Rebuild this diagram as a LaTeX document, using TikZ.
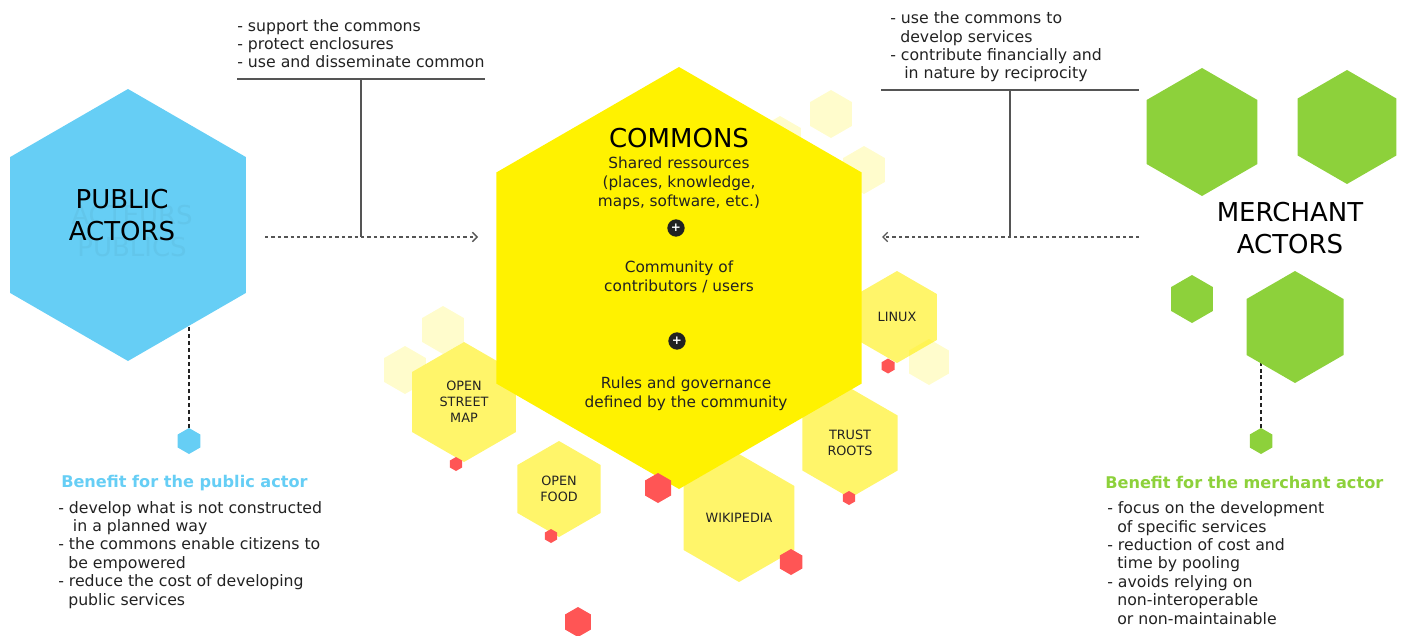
\documentclass[tikz,border=0pt]{standalone}
\usepackage{fontspec}
\setmainfont{DejaVu Sans}
\usetikzlibrary{shapes.geometric,arrows.meta}

\definecolor{pubblue}{HTML}{66CEF5}
\definecolor{comyellow}{HTML}{FFF200}
\definecolor{hexyellow}{HTML}{FFF56A}
\definecolor{merchgreen}{HTML}{8DD13B}
\definecolor{dotred}{HTML}{FF5555}
\definecolor{inkgray}{HTML}{222222}
\definecolor{linegray}{HTML}{555555}

\tikzset{
  hexa/.style={regular polygon, regular polygon sides=6, shape border rotate=30,
    draw=none, inner sep=0pt, outer sep=0pt, minimum size=#1*1.5pt},
  palehex/.style={fill=comyellow, fill opacity=0.2},
  projhex/.style={fill=hexyellow, text=inkgray, align=center,
    font=\fontsize{9.6}{12}\selectfont},
  reddot/.style={fill=dotred},
  bigtitle/.style={text=black, align=center, anchor=base,
    font=\fontsize{19.5}{23.5}\selectfont},
  bodytext/.style={text=inkgray, align=left, anchor=base west, inner sep=0pt,
    font=\fontsize{11.8}{13.8}\selectfont},
  comtext/.style={text=inkgray, align=center, anchor=base, inner sep=0pt,
    font=\fontsize{11.5}{13.9}\selectfont},
  headtext/.style={anchor=base west, inner sep=0pt,
    font=\fontsize{12.1}{14}\selectfont\bfseries},
  plusdot/.style={circle, fill=inkgray, text=white, inner sep=0pt,
    minimum size=13pt, font=\fontsize{9}{9}\selectfont\bfseries},
  flow/.style={draw=linegray, line width=1pt, dash pattern=on 2.6pt off 2.2pt,
    -{Straight Barb[length=3.5pt,width=7pt]}},
  tick/.style={draw=inkgray, line width=1pt, dash pattern=on 3pt off 2.2pt},
  bar/.style={draw=linegray, line width=1.3pt}
}

\begin{document}
\begin{tikzpicture}[x=0.75pt,y=-0.75pt]
  \useasboundingbox (0,0) rectangle (1405,635);

  % faint hexagons around the commons
  \node[hexa=24,palehex] (pale1) at (831,114) {};
  \node[hexa=24,palehex] (pale2) at (864,170) {};
  \node[hexa=24,palehex] (pale3) at (780,140) {};
  \node[hexa=24,palehex] (pale4) at (443,330) {};
  \node[hexa=24,palehex] (pale5) at (405,370) {};

  % examples of commons
  \node[hexa=60,projhex] (osm) at (464,402) {OPEN\\STREET\\MAP};
  \node[hexa=48,projhex] (food) at (559,489) {OPEN\\FOOD};
  \node[hexa=46,projhex] (linux) at (897,317) {LINUX};
  \node[hexa=55,projhex] (trust) at (850,443) {TRUST\\ROOTS};
  \node[hexa=64,projhex] (wiki) at (739,518) {WIKIPEDIA};
  \node[hexa=23,palehex] (pale6) at (929,362) {};

  % the commons
  \node[hexa=211,fill=comyellow] (commons) at (679,278) {};
  \node[bigtitle,font=\fontsize{19.5}{23.5}\selectfont] (comtitle) at (679,147) {COMMONS};
  \node[comtext] (shared) at (679,206) {Shared ressources\\(places, knowledge,\\maps, software, etc.)};
  \node[plusdot] (plus1) at (676,228) {+};
  \node[comtext] (community) at (679,291) {Community of\\contributors / users};
  \node[plusdot] (plus2) at (677,341) {+};
  \node[comtext] (rules) at (686,407) {Rules and governance\\defined by the community};

  % red dots
  \node[hexa=7,reddot] (red1) at (456,464) {};
  \node[hexa=7,reddot] (red2) at (551,536) {};
  \node[hexa=15,reddot] (red3) at (658,488) {};
  \node[hexa=15,reddot] (red4) at (578,622) {};
  \node[hexa=13,reddot] (red5) at (791,562) {};
  \node[hexa=7.5,reddot] (red6) at (888,366) {};
  \node[hexa=7,reddot] (red7) at (849,498) {};

  % public actors
  \coordinate (pubc) at (128,225);
  \node[hexa=13,fill=pubblue] (pubdot) at (189,441) {};
  \draw[tick] (pubdot.north) -- (pubdot |- pubc);
  \node[hexa=136,fill=pubblue] (pub) at (pubc) {};
  \node[bigtitle,text=pubblue!96!black] (pubghost) at (132,256) {ACTEURS\\PUBLICS};
  \node[bigtitle,font=\fontsize{19.5}{24}\selectfont] (pubtitle) at (122,240) {PUBLIC\\ACTORS};

  % merchant actors
  \node[hexa=64,fill=merchgreen] (merch1) at (1202,132) {};
  \node[hexa=57,fill=merchgreen] (merch2) at (1347,127) {};
  \node[hexa=24,fill=merchgreen] (merch3) at (1192,299) {};
  \coordinate (merchc) at (1295,327);
  \node[hexa=13,fill=merchgreen] (merchdot) at (1261,441) {};
  \draw[tick] (merchdot.north) -- (merchdot |- merchc);
  \node[hexa=56,fill=merchgreen] (merch4) at (merchc) {};
  \node[bigtitle] (merchtitle) at (1290,253) {MERCHANT\\ACTORS};

  % public actors towards the commons
  \node[bodytext] (pubroles) at (237,68) {- support the commons\\- protect enclosures\\- use and disseminate common};
  \coordinate (lbarw) at (237,79);
  \coordinate (lbare) at (485,79);
  \coordinate (lfrom) at (265,237);
  \coordinate (lto) at (478,237);
  \coordinate (lfoot) at (361,237);
  \draw[bar] (lbarw) -- (lbare);
  \draw[bar,line width=1pt] (lfoot |- lbarw) -- (lfoot);
  \draw[flow] (lfrom) -- (lto);

  % merchant actors towards the commons
  \node[bodytext] (merchroles) at (890,79) {- use the commons to\\\hspace*{7.5pt}develop services\\- contribute financially and\\\hspace*{10.5pt}in nature by reciprocity};
  \coordinate (rbarw) at (881,90);
  \coordinate (rbare) at (1139,90);
  \coordinate (rfrom) at (1139,237);
  \coordinate (rto) at (882,237);
  \coordinate (rfoot) at (1010,237);
  \draw[bar] (rbarw) -- (rbare);
  \draw[bar,line width=1pt] (rfoot |- rbarw) -- (rfoot);
  \draw[flow] (rfrom) -- (rto);

  % benefits
  \node[headtext,text=pubblue] (pubhead) at (61,487) {Benefit for the public actor};
  \node[bodytext] (pubgain) at (58,605) {- develop what is not constructed\\\hspace*{11pt}in a planned way\\- the commons enable citizens to\\\hspace*{7.5pt}be empowered\\- reduce the cost of developing\\\hspace*{7.5pt}public services};
  \node[headtext,text=merchgreen] (merchhead) at (1105,488) {Benefit for the merchant actor};
  \node[bodytext] (merchgain) at (1107,624) {- focus on the development\\\hspace*{7.5pt}of specific services\\- reduction of cost and\\\hspace*{7.5pt}time by pooling\\- avoids relying on\\\hspace*{7.5pt}non-interoperable\\\hspace*{7.5pt}or non-maintainable};
\end{tikzpicture}
\end{document}
